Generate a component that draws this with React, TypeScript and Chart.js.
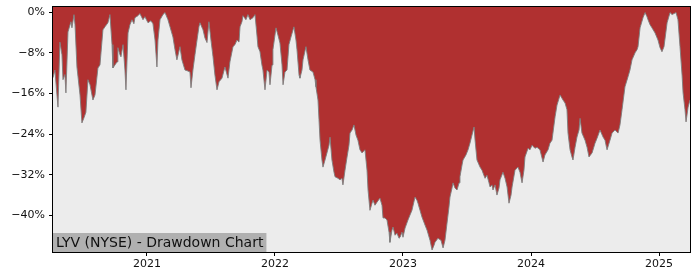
import React, { useEffect, useRef } from "react";
import { Chart, registerables } from "chart.js";

Chart.register(...registerables);

// decimal year of each sample
const dates: number[] = [
  2020.266, 2020.281, 2020.297, 2020.305, 2020.320, 2020.336, 2020.344, 2020.359, 2020.367, 2020.383,
  2020.406, 2020.414, 2020.430, 2020.438, 2020.453, 2020.477, 2020.492, 2020.508, 2020.523, 2020.539,
  2020.555, 2020.578, 2020.594, 2020.617, 2020.633, 2020.656, 2020.672, 2020.695, 2020.711, 2020.727,
  2020.734, 2020.750, 2020.766, 2020.773, 2020.789, 2020.797, 2020.813, 2020.828, 2020.836, 2020.852,
  2020.867, 2020.883, 2020.898, 2020.906, 2020.930, 2020.945, 2020.969, 2020.984, 2021.008, 2021.031,
  2021.047, 2021.063, 2021.078, 2021.086, 2021.102, 2021.125, 2021.141, 2021.164, 2021.180, 2021.203,
  2021.219, 2021.234, 2021.258, 2021.273, 2021.297, 2021.320, 2021.336, 2021.344, 2021.359, 2021.375,
  2021.391, 2021.406, 2021.414, 2021.438, 2021.453, 2021.469, 2021.484, 2021.500, 2021.516, 2021.531,
  2021.547, 2021.563, 2021.586, 2021.609, 2021.633, 2021.648, 2021.672, 2021.688, 2021.703, 2021.719,
  2021.727, 2021.742, 2021.750, 2021.773, 2021.789, 2021.805, 2021.828, 2021.844, 2021.859, 2021.867,
  2021.883, 2021.898, 2021.906, 2021.922, 2021.938, 2021.953, 2021.961, 2021.977, 2021.984, 2022.008,
  2022.023, 2022.039, 2022.055, 2022.063, 2022.078, 2022.094, 2022.109, 2022.125, 2022.148, 2022.164,
  2022.172, 2022.188, 2022.195, 2022.211, 2022.219, 2022.242, 2022.258, 2022.273, 2022.297, 2022.313,
  2022.320, 2022.336, 2022.344, 2022.352, 2022.367, 2022.375, 2022.391, 2022.406, 2022.422, 2022.430,
  2022.445, 2022.461, 2022.469, 2022.492, 2022.508, 2022.523, 2022.531, 2022.547, 2022.563, 2022.578,
  2022.586, 2022.602, 2022.617, 2022.633, 2022.648, 2022.664, 2022.680, 2022.703, 2022.719, 2022.727,
  2022.742, 2022.758, 2022.766, 2022.781, 2022.797, 2022.820, 2022.836, 2022.844, 2022.859, 2022.875,
  2022.891, 2022.898, 2022.914, 2022.922, 2022.938, 2022.953, 2022.969, 2022.977, 2022.992, 2023.000,
  2023.016, 2023.039, 2023.055, 2023.070, 2023.094, 2023.109, 2023.117, 2023.133, 2023.148, 2023.172,
  2023.188, 2023.211, 2023.227, 2023.242, 2023.250, 2023.273, 2023.297, 2023.313, 2023.328, 2023.344,
  2023.359, 2023.367, 2023.383, 2023.391, 2023.406, 2023.422, 2023.438, 2023.445, 2023.461, 2023.469,
  2023.492, 2023.508, 2023.523, 2023.539, 2023.555, 2023.563, 2023.578, 2023.602, 2023.617, 2023.641,
  2023.656, 2023.672, 2023.680, 2023.695, 2023.703, 2023.719, 2023.734, 2023.750, 2023.758, 2023.781,
  2023.797, 2023.813, 2023.828, 2023.844, 2023.852, 2023.875, 2023.898, 2023.914, 2023.930, 2023.945,
  2023.953, 2023.977, 2023.992, 2024.008, 2024.031, 2024.047, 2024.070, 2024.094, 2024.109, 2024.133,
  2024.148, 2024.164, 2024.188, 2024.203, 2024.227, 2024.250, 2024.266, 2024.281, 2024.289, 2024.305,
  2024.320, 2024.328, 2024.344, 2024.359, 2024.375, 2024.383, 2024.398, 2024.422, 2024.438, 2024.453,
  2024.477, 2024.500, 2024.516, 2024.539, 2024.563, 2024.578, 2024.594, 2024.617, 2024.633, 2024.656,
  2024.680, 2024.695, 2024.711, 2024.734, 2024.758, 2024.773, 2024.789, 2024.813, 2024.828, 2024.836,
  2024.852, 2024.875, 2024.891, 2024.906, 2024.914, 2024.930, 2024.945, 2024.969, 2024.992, 2025.008,
  2025.023, 2025.039, 2025.063, 2025.086, 2025.102, 2025.117, 2025.133, 2025.148, 2025.164, 2025.180,
  2025.188, 2025.203, 2025.211, 2025.227, 2025.242,
];

// drawdown in percent
const drawdown: number[] = [
  -12.9, -11.4, -16.3, -18.7, -5.9, -8.4, -13.3, -12.3, -15.9, -3.9,
  -1.9, -3.1, -0.5, -2.5, -10.8, -16.3, -21.8, -20.8, -19.7, -13.3,
  -14.3, -17.3, -16.3, -11.0, -10.4, -3.5, -2.9, -2.1, -0.5, -6.4,
  -11.0, -10.4, -9.8, -7.0, -8.4, -8.8, -6.4, -11.4, -15.3, -4.1,
  -2.5, -1.5, -2.3, -1.1, -0.7, -0.3, -1.5, -0.9, -2.1, -1.7,
  -2.3, -5.5, -10.8, -5.5, -1.5, -0.5, -0.1, -1.5, -2.9, -4.9,
  -7.4, -9.4, -6.8, -9.4, -11.4, -11.6, -11.8, -14.9, -11.4, -8.4,
  -5.5, -2.9, -2.1, -3.5, -5.1, -6.0, -1.9, -5.5, -8.8, -12.4,
  -15.3, -13.7, -13.0, -10.8, -13.0, -9.8, -6.8, -6.4, -5.5, -5.9,
  -2.9, -1.9, -0.7, -1.5, -0.5, -1.5, -1.1, -0.5, -4.5, -6.8,
  -7.8, -10.4, -11.4, -15.3, -11.4, -11.8, -14.3, -10.4, -7.4, -3.1,
  -4.5, -6.1, -10.4, -14.3, -11.8, -11.4, -6.4, -4.9, -2.9, -5.5,
  -7.4, -12.4, -13.0, -11.4, -9.4, -6.8, -9.4, -11.4, -11.8, -13.3,
  -14.7, -17.3, -21.2, -25.2, -29.1, -30.5, -29.1, -27.7, -26.2, -24.6,
  -29.1, -31.5, -32.4, -32.7, -33.0, -32.7, -34.0, -31.1, -28.5, -26.2,
  -23.8, -23.2, -22.2, -24.2, -25.2, -27.1, -27.7, -27.1, -31.1, -35.0,
  -39.0, -37.6, -37.0, -38.0, -37.4, -36.6, -38.0, -40.5, -40.5, -40.9,
  -43.3, -45.3, -42.9, -42.3, -43.9, -43.5, -44.5, -44.3, -43.3, -44.3,
  -42.5, -40.9, -39.9, -39.0, -36.4, -37.0, -37.6, -39.0, -40.3, -41.9,
  -42.9, -44.9, -46.8, -45.9, -45.3, -44.5, -44.9, -46.4, -44.9, -41.5,
  -38.4, -36.4, -34.6, -33.6, -34.6, -35.0, -33.6, -32.4, -30.1, -29.1,
  -28.1, -27.1, -25.8, -24.2, -22.6, -25.2, -29.1, -30.5, -31.1, -32.7,
  -32.1, -33.6, -34.4, -34.0, -35.0, -34.0, -36.0, -34.6, -33.0, -31.5,
  -32.7, -34.4, -37.6, -36.0, -34.4, -31.1, -30.5, -31.5, -33.6, -31.1,
  -28.5, -26.8, -27.1, -26.2, -26.8, -26.6, -27.1, -29.5, -28.1, -27.1,
  -25.8, -25.2, -20.6, -18.3, -16.3, -17.3, -17.9, -19.2, -23.8, -27.1,
  -28.5, -29.1, -26.6, -24.6, -23.2, -20.9, -23.8, -25.2, -26.6, -28.5,
  -27.7, -25.8, -24.8, -23.2, -24.6, -25.2, -27.1, -25.2, -23.8, -23.2,
  -23.8, -22.2, -19.2, -14.7, -12.7, -11.4, -9.4, -8.0, -7.4, -6.8,
  -3.1, -1.1, -0.1, -0.9, -1.5, -2.5, -3.1, -4.1, -5.5, -7.0,
  -7.8, -6.8, -2.1, -0.1, -0.5, -0.3, -0.1, -1.5, -6.8, -12.4,
  -15.9, -19.2, -21.6, -18.7, -17.3,
];

const yearTicks: number[] = [2021, 2022, 2023, 2024, 2025];
const pctTicks: number[] = [0, -8, -16, -24, -32, -40];
const titleText = "LYV (NYSE) - Drawdown Chart";

const FONT = "'DejaVu Sans', sans-serif";

const framePlugin = {
  id: "frame",
  beforeDatasetsDraw(chart: any) {
    const { ctx, chartArea: a } = chart;
    ctx.save();
    ctx.fillStyle = "#ececec";
    ctx.fillRect(a.left, a.top, a.right - a.left, a.bottom - a.top);
    ctx.restore();
  },
  afterDatasetsDraw(chart: any) {
    const { ctx, chartArea: a } = chart;
    ctx.save();
    ctx.font = `14px ${FONT}`;
    const w = ctx.measureText(titleText).width;
    const h = 19;
    ctx.fillStyle = "#b0b0b0";
    ctx.fillRect(a.left, a.bottom - h, w + 6, h);
    ctx.fillStyle = "#111";
    ctx.textBaseline = "middle";
    ctx.fillText(titleText, a.left + 3, a.bottom - h / 2 + 1);
    ctx.strokeStyle = "#000";
    ctx.lineWidth = 1;
    ctx.strokeRect(Math.round(a.left) - 0.5, Math.round(a.top) - 0.5, Math.round(a.right - a.left) + 1, Math.round(a.bottom - a.top) + 1);
    ctx.restore();
  },
};

export default function App() {
  const ref = useRef<HTMLCanvasElement>(null);
  useEffect(() => {
    const points = dates.map((d, i) => ({ x: d, y: drawdown[i] }));
    const chart = new Chart(ref.current!, {
      type: "line",
      data: {
        datasets: [
          {
            data: points,
            fill: "end",
            backgroundColor: "#b03030",
            borderColor: "rgba(125,125,125,0.9)",
            borderWidth: 1,
            pointRadius: 0,
            tension: 0,
          },
        ],
      },
      options: {
        animation: false,
        responsive: false,
        maintainAspectRatio: false,
        layout: { padding: { left: 0, right: 10, top: 7, bottom: 0 } },
        plugins: { legend: { display: false }, tooltip: { enabled: false } },
        scales: {
          x: {
            type: "linear",
            min: 2020.266,
            max: 2025.242,
            afterBuildTicks: (s: any) => {
              s.ticks = yearTicks.map((v) => ({ value: v }));
            },
            afterFit: (s: any) => {
              s.height = 28;
              s.paddingLeft = 0;
              s.paddingRight = 0;
            },
            ticks: {
              callback: (v: any) => String(v),
              color: "#111",
              font: { family: FONT, size: 11 },
              padding: 2,
              maxRotation: 0,
            },
            grid: { drawOnChartArea: false, drawTicks: true, tickLength: 4, color: "#000" },
            border: { display: true, color: "#000" },
          },
          y: {
            type: "linear",
            min: -47.2,
            max: 1.0,
            afterBuildTicks: (s: any) => {
              s.ticks = pctTicks.map((v) => ({ value: v }));
            },
            afterFit: (s: any) => {
              s.width = 53;
              s.paddingTop = 0;
              s.paddingBottom = 0;
            },
            ticks: {
              callback: (v: any) => (v === 0 ? "0%" : "\u2212" + Math.abs(v) + "%"),
              color: "#111",
              font: { family: FONT, size: 11 },
              padding: 4,
            },
            grid: { drawOnChartArea: false, drawTicks: true, tickLength: 4, color: "#000" },
            border: { display: true, color: "#000" },
          },
        },
      },
      plugins: [framePlugin],
    });
    return () => chart.destroy();
  }, []);
  return (
    <div style={{ position: "fixed", left: 0, top: 0, width: 700, height: 280, background: "#fff" }}>
      <canvas ref={ref} width={700} height={280} style={{ display: "block" }} />
    </div>
  );
}
